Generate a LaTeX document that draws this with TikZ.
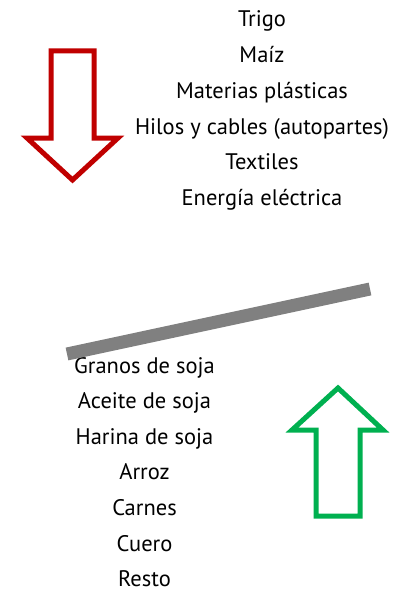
\documentclass[tikz,border=0pt]{standalone}
\usepackage{fontspec}
\setmainfont{PT Sans}
\definecolor{downred}{HTML}{C00000}
\definecolor{upgreen}{HTML}{00B050}
\begin{document}
\begin{tikzpicture}[x=1pt,y=-1pt]
        \tikzstyle{itemstyle}=[anchor=base, inner sep=0pt, font=\fontsize{22.5}{27}\selectfont]
        \tikzstyle{arrowstyle}=[line width=5pt, line join=miter, fill=white]
        \useasboundingbox (0,0) rectangle (405,591);

        % products that went down
        \foreach \name/\txt [count=\i from 0] in {trigo/Trigo, maiz/Maíz, plasticas/Materias plásticas, hilos/Hilos y cables (autopartes), textiles/Textiles, energia/Energía eléctrica}
        {
          \node[itemstyle] (\name) at (262, 27+35.7*\i) {\txt};
        };

        % products that went up
        \foreach \name/\txt [count=\i from 0] in {granos/Granos de soja, aceite/Aceite de soja, harina/Harina de soja, arroz/Arroz, carnes/Carnes, cuero/Cuero, resto/Resto}
        {
          \node[itemstyle] (\name) at (144.5, 373+35.6*\i) {\txt};
        };

        % red arrow pointing down
        \draw[arrowstyle, draw=downred] (51,51) -- (94,51) -- (94,138) -- (118,138) -- (72.5,180) -- (27,138) -- (51,138) -- cycle;

        % green arrow pointing up
        \draw[arrowstyle, draw=upgreen] (316,516) -- (360,516) -- (360,430) -- (383,430) -- (338,388) -- (292,430) -- (316,430) -- cycle;

        % grey dividing bar
        \draw[line width=13pt, gray] (67,354) -- (370,289);
\end{tikzpicture}
\end{document}
